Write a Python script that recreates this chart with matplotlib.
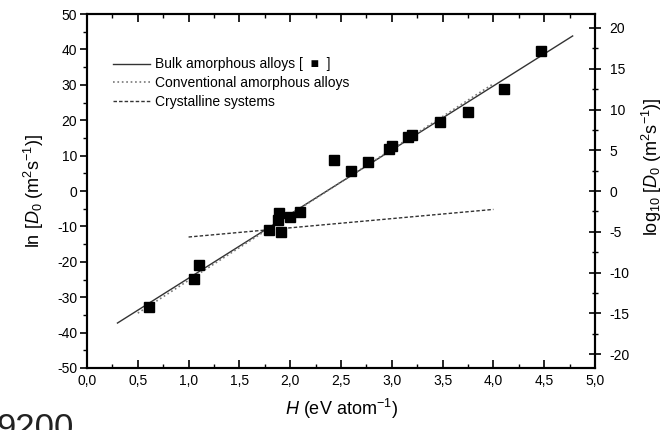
import numpy as np
import matplotlib
matplotlib.use("Agg")
import matplotlib.pyplot as plt
from matplotlib.ticker import MultipleLocator, FuncFormatter
from matplotlib.lines import Line2D

plt.rcParams['font.family'] = ['Liberation Sans', 'DejaVu Sans']
plt.rcParams['mathtext.fontset'] = 'custom'
plt.rcParams['mathtext.rm'] = 'Liberation Sans'
plt.rcParams['mathtext.it'] = 'Liberation Sans:italic'
plt.rcParams['axes.unicode_minus'] = False

# measured points: H (eV/atom) vs ln D0
H_pts = [0.61, 1.05, 1.10, 1.79, 1.88, 1.89, 1.91, 2.00, 2.10, 2.43, 2.60,
         2.77, 2.97, 3.00, 3.16, 3.20, 3.47, 3.75, 4.10, 4.47]
lnD_pts = [-32.7, -24.8, -20.9, -11.0, -8.2, -6.3, -11.5, -7.3, -6.0, 8.8, 5.6,
           8.3, 11.8, 12.7, 15.3, 15.8, 19.4, 22.4, 28.7, 39.5]

# fitted lines (end points)
bulk_H = [0.30, 4.78]
bulk_lnD = [-37.3, 43.8]
conv_H = [0.50, 4.00]
conv_lnD = [-34.5, 30.3]
cryst_H = [1.00, 4.00]
cryst_lnD = [-13.0, -5.2]

fig = plt.figure(figsize=(6.66, 4.30), dpi=100)
ax = fig.add_axes([0.1306, 0.1442, 0.7628, 0.8232])

ax.plot(bulk_H, bulk_lnD, '-', color='#333333', lw=1.0)
ax.plot(conv_H, conv_lnD, ':', color='#777777', lw=1.2)
ax.plot(cryst_H, cryst_lnD, '--', color='#333333', lw=1.0, dashes=(2.5, 1.5))
ax.plot(H_pts, lnD_pts, 's', color='black', ms=7.5, zorder=5)

ax.set_xlim(0, 5)
ax.set_ylim(-50, 50)
ax.xaxis.set_major_locator(MultipleLocator(0.5))
ax.xaxis.set_minor_locator(MultipleLocator(0.25))
ax.yaxis.set_major_locator(MultipleLocator(10))
ax.yaxis.set_minor_locator(MultipleLocator(5))
ax.xaxis.set_major_formatter(FuncFormatter(lambda v, p: ('%.1f' % v).replace('.', ',')))

ax.tick_params(axis='x', which='both', direction='in', top=True, labelsize=10, pad=4)
ax.tick_params(axis='x', which='major', length=6, width=1.2)
ax.tick_params(axis='x', which='minor', length=3, width=1.0)
ax.tick_params(axis='y', which='both', direction='out', labelsize=10, pad=2)
ax.tick_params(axis='y', which='major', length=5, width=1.2)
ax.tick_params(axis='y', which='minor', length=3, width=1.0)
for s in ax.spines.values():
    s.set_linewidth(1.5)

ax2 = ax.twinx()
ax2.set_ylim(-50 / np.log(10), 50 / np.log(10))
ax2.yaxis.set_major_locator(MultipleLocator(5))
ax2.yaxis.set_minor_locator(MultipleLocator(2.5))
ax2.tick_params(axis='y', which='both', direction='inout', labelsize=10, pad=6)
ax2.tick_params(axis='y', which='major', length=9, width=1.2)
ax2.tick_params(axis='y', which='minor', length=5, width=1.0)
for s in ax2.spines.values():
    s.set_linewidth(1.5)

ax.set_xlabel(r'$H$ (eV atom$^{-1}$)', fontsize=13, labelpad=7)
ax.set_ylabel(r'ln [$D_0$ (m$^2$s$^{-1}$)]', fontsize=13)
ax.yaxis.set_label_coords(-0.08, 0.5)
ax2.set_ylabel(r'log$_{10}$ [$D_0$ (m$^2$s$^{-1}$)]', fontsize=13)
ax2.yaxis.set_label_coords(1.088, 0.57)

handles = [Line2D([], [], ls='-', color='#333333', lw=1.0),
           Line2D([], [], ls=':', color='#777777', lw=1.2),
           Line2D([], [], ls='--', color='#333333', lw=1.0, dashes=(2.5, 1.5))]
labels = ['Bulk amorphous alloys [  \u25a0  ]',
          'Conventional amorphous alloys',
          'Crystalline systems']
ax.legend(handles, labels, loc='upper left', bbox_to_anchor=(0.04, 0.893),
          frameon=False, fontsize=10, handlelength=2.66, handletextpad=0.36,
          labelspacing=0.35, borderaxespad=0)

fig.text(-0.006, -0.035, '9200', fontsize=25, ha='left', va='bottom', color='#222222')

fig.savefig('out.png', dpi=100)
